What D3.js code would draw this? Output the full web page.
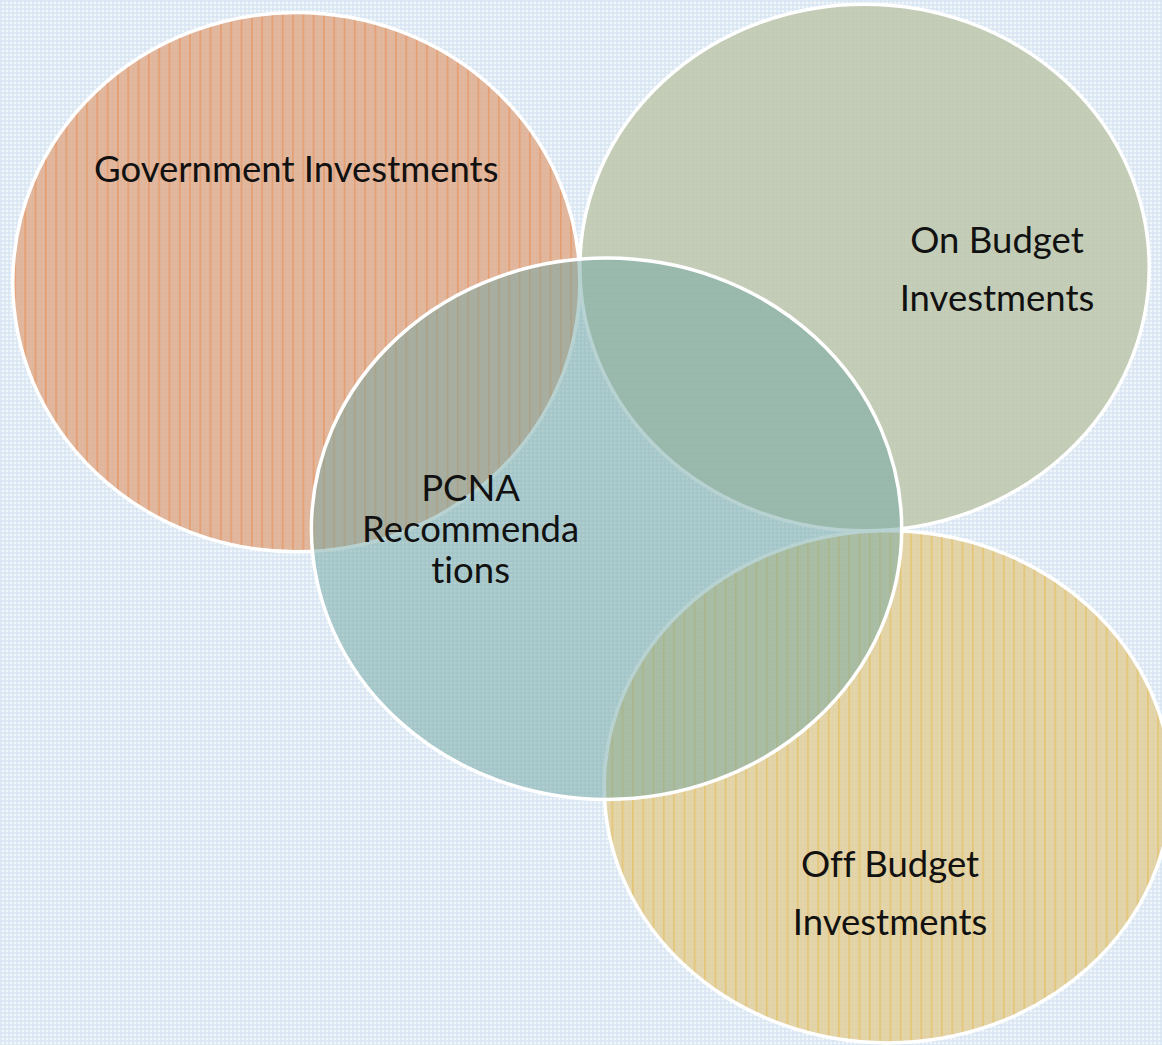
<!DOCTYPE html>
<html>
<head>
<meta charset="utf-8">
<script src="https://cdn.jsdelivr.net/npm/d3@7"></script>
<style>
  html, body { margin: 0; padding: 0; background: #eef4fa; }
  svg { display: block; }
</style>
</head>
<body>
<svg class="venn"></svg>
<script>
// the four sets, drawn in this order (centre set last, on top)
const setNames = ["Government", "OnBudget", "OffBudget", "PCNA"];
const setLabels = [
  ["Government Investments"],
  ["On Budget", "Investments"],
  ["Off Budget", "Investments"],
  ["PCNA", "Recommenda", "tions"]
];

// ellipse layout in the 0..1 space of the picture
const centreX = [0.255, 0.744, 0.764, 0.522];
const centreY = [0.270, 0.256, 0.753, 0.506];
const radiusX = [0.244, 0.245, 0.244, 0.254];
const radiusY = [0.258, 0.252, 0.245, 0.259];
// where each label block sits (its first baseline)
const labelX = [0.255, 0.858, 0.766, 0.405];
const labelY = [0.174, 0.242, 0.839, 0.479];

const svgWidth = 1162;
const svgHeight = 1045;

const x = d3.scaleLinear().domain([0, 1]).range([0, svgWidth]);
const y = d3.scaleLinear().domain([0, 1]).range([0, svgHeight]);

const fills = ["#e0ab8c", "#bec6aa", "#e2cf98", "#6fa5a1"];
const stripes = ["#e98d52", null, "#e5ba52", null];
const opac = [0.84, 0.84, 0.84, 0.5];

const svg = d3.select('svg.venn')
  .attr('width', svgWidth)
  .attr('height', svgHeight);

const defs = svg.append('defs');

// light blue gingham background
const bg = defs.append('pattern')
  .attr('id', 'gingham')
  .attr('width', 4).attr('height', 4)
  .attr('patternUnits', 'userSpaceOnUse');
bg.append('rect').attr('width', 4).attr('height', 4).attr('fill', '#f1f6fb');
bg.append('rect').attr('width', 2).attr('height', 4).attr('fill', '#d4e3f1').attr('fill-opacity', 0.6);
bg.append('rect').attr('width', 4).attr('height', 2).attr('fill', '#d4e3f1').attr('fill-opacity', 0.6);

// vertical pinstripes for two of the sets
setNames.forEach((name, i) => {
  if (!stripes[i]) return;
  const p = defs.append('pattern')
    .attr('id', 'stripe' + name)
    .attr('width', 10.3).attr('height', 10)
    .attr('patternUnits', 'userSpaceOnUse');
  p.append('rect')
    .attr('x', 4).attr('y', 0)
    .attr('width', 1.2).attr('height', 10)
    .attr('fill', stripes[i]);
});

svg.append('rect')
  .attr('width', svgWidth)
  .attr('height', svgHeight)
  .attr('fill', 'url(#gingham)');

const groups = svg.selectAll('g.set')
  .data(setNames)
  .enter()
  .append('g')
  .attr('class', 'set');

groups.append('ellipse')
  .attr('cx', (d, i) => x(centreX[i]))
  .attr('cy', (d, i) => y(centreY[i]))
  .attr('rx', (d, i) => x(radiusX[i]))
  .attr('ry', (d, i) => y(radiusY[i]))
  .attr('fill', (d, i) => fills[i])
  .attr('fill-opacity', (d, i) => opac[i]);

groups.filter((d, i) => !!stripes[i])
  .append('ellipse')
  .attr('cx', d => x(centreX[setNames.indexOf(d)]))
  .attr('cy', d => y(centreY[setNames.indexOf(d)]))
  .attr('rx', d => x(radiusX[setNames.indexOf(d)]))
  .attr('ry', d => y(radiusY[setNames.indexOf(d)]))
  .attr('fill', d => `url(#stripe${d})`)
  .attr('fill-opacity', 0.8);

groups.append('ellipse')
  .attr('cx', (d, i) => x(centreX[i]))
  .attr('cy', (d, i) => y(centreY[i]))
  .attr('rx', (d, i) => x(radiusX[i]))
  .attr('ry', (d, i) => y(radiusY[i]))
  .attr('fill', 'none')
  .attr('stroke', '#ffffff')
  .attr('stroke-width', 3.5);

// labels on top of everything
const lineGap = [58, 58, 58, 41];
const labels = svg.selectAll('text.lbl')
  .data(setNames)
  .enter()
  .append('text')
  .attr('class', 'lbl')
  .attr('text-anchor', 'middle')
  .style('font-family', "Lato, 'Open Sans', sans-serif")
  .style('font-size', '36.5px')
  .style('font-variant-ligatures', 'none')
  .style('fill', '#111');

labels.selectAll('tspan')
  .data((d, i) => setLabels[i].map((t, k) => ({t, k, i})))
  .enter()
  .append('tspan')
  .attr('x', d => x(labelX[d.i]))
  .attr('y', d => y(labelY[d.i]) + d.k * lineGap[d.i])
  .text(d => d.t);
</script>
</body>
</html>
